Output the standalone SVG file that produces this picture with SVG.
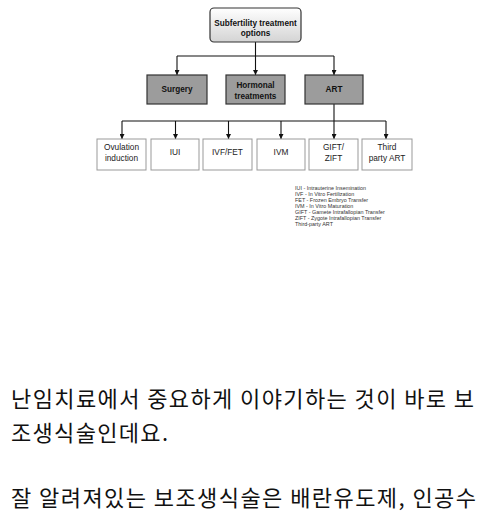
<svg xmlns="http://www.w3.org/2000/svg" width="500" height="517" viewBox="0 0 500 517">
<defs>
<linearGradient id="g" x1="0" y1="0" x2="0" y2="1">
<stop offset="0" stop-color="#ffffff"/>
<stop offset="1" stop-color="#d4d4d4"/>
</linearGradient>
<marker id="ah" viewBox="0 0 10 10" refX="10" refY="5" markerWidth="5" markerHeight="5" markerUnits="userSpaceOnUse" orient="auto">
<path d="M0,0 L10,5 L0,10 z" fill="#111"/>
</marker>
</defs>
<style>
.b{font-family:"Liberation Sans",Arial,sans-serif;font-weight:bold;font-size:8.2px;fill:#111;text-anchor:middle}
.n{font-family:"Liberation Sans",Arial,sans-serif;font-size:8.3px;fill:#222;text-anchor:middle}
.l{font-family:"Liberation Sans",Arial,sans-serif;font-size:5.4px;fill:#333}
.k{font-family:"Noto Sans CJK KR",sans-serif;font-size:22px;fill:#111}
.gr{fill:#9c9c9c;stroke:#333;stroke-width:1.2}
.wh{fill:#fff;stroke:#999;stroke-width:1}
.c{fill:none;stroke:#111;stroke-width:1.1}
</style>
<rect width="500" height="517" fill="#fff"/>
<g id="connectors">
<line class="c" x1="255.5" y1="42" x2="255.5" y2="56"/>
<line class="c" x1="177" y1="56" x2="334" y2="56"/>
<line class="c" x1="177" y1="56" x2="177" y2="75" marker-end="url(#ah)"/>
<line class="c" x1="255.5" y1="56" x2="255.5" y2="75" marker-end="url(#ah)"/>
<line class="c" x1="334" y1="56" x2="334" y2="75" marker-end="url(#ah)"/>
<line class="c" x1="334" y1="104" x2="334" y2="121"/>
<line class="c" x1="122" y1="121" x2="386" y2="121"/>
<line class="c" x1="122" y1="121" x2="122" y2="139" marker-end="url(#ah)"/>
<line class="c" x1="175.5" y1="121" x2="175.5" y2="139" marker-end="url(#ah)"/>
<line class="c" x1="228.5" y1="121" x2="228.5" y2="139" marker-end="url(#ah)"/>
<line class="c" x1="281" y1="121" x2="281" y2="139" marker-end="url(#ah)"/>
<line class="c" x1="334" y1="121" x2="334" y2="139" marker-end="url(#ah)"/>
<line class="c" x1="386" y1="121" x2="386" y2="139" marker-end="url(#ah)"/>
</g>
<g id="root">
<rect x="210" y="8" width="91" height="34" rx="4" fill="url(#g)" stroke="#333" stroke-width="1.2"/>
<text class="b" x="255.5" y="25.5">Subfertility treatment</text>
<text class="b" x="255.5" y="35.5">options</text>
</g>
<g id="surgery">
<rect class="gr" x="147" y="75" width="60" height="29"/>
<text class="b" x="177" y="91.5">Surgery</text>
</g>
<g id="hormonal">
<rect class="gr" x="226" y="75" width="59" height="29"/>
<text class="b" x="255.5" y="88">Hormonal</text>
<text class="b" x="255.5" y="98.5">treatments</text>
</g>
<g id="art">
<rect class="gr" x="305" y="75" width="58" height="29"/>
<text class="b" x="334" y="91.5">ART</text>
</g>
<g id="ovulation">
<rect class="wh" x="97" y="139" width="49" height="31"/>
<text class="n" x="121.5" y="149.5">Ovulation</text>
<text class="n" x="121.5" y="160.5">induction</text>
</g>
<g id="iui">
<rect class="wh" x="151" y="139" width="48" height="31"/>
<text class="n" x="175" y="155">IUI</text>
</g>
<g id="ivffet">
<rect class="wh" x="203" y="139" width="49" height="31"/>
<text class="n" x="227.5" y="155">IVF/FET</text>
</g>
<g id="ivm">
<rect class="wh" x="257" y="139" width="48" height="31"/>
<text class="n" x="281" y="155">IVM</text>
</g>
<g id="gift">
<rect class="wh" x="309" y="139" width="49" height="31"/>
<text class="n" x="333.5" y="149.5">GIFT/</text>
<text class="n" x="333.5" y="160.5">ZIFT</text>
</g>
<g id="third">
<rect class="wh" x="362" y="139" width="50" height="31"/>
<text class="n" x="387" y="149.5">Third</text>
<text class="n" x="387" y="160.5">party ART</text>
</g>
<g id="legend">
<text class="l" x="295" y="190">IUI - Intrauterine Insemination</text>
<text class="l" x="295" y="196">IVF -  In Vitro Fertilization</text>
<text class="l" x="295" y="202">FET - Frozen Embryo Transfer</text>
<text class="l" x="295" y="208">IVM - In Vitro Maturation</text>
<text class="l" x="295" y="214">GIFT - Gamete Intrafallopian Transfer</text>
<text class="l" x="295" y="220">ZIFT - Zygote Intrafallopian Transfer</text>
<text class="l" x="295" y="226">Third-party ART</text>
</g>
<g id="body">
<text class="k" x="11" y="407" textLength="463" lengthAdjust="spacing">난임치료에서 중요하게 이야기하는 것이 바로 보</text>
<text class="k" x="11" y="440.5" textLength="157" lengthAdjust="spacing">조생식술인데요.</text>
<text class="k" x="11" y="506" textLength="465" lengthAdjust="spacing">잘 알려져있는 보조생식술은 배란유도제, 인공수</text>
</g>
</svg>
